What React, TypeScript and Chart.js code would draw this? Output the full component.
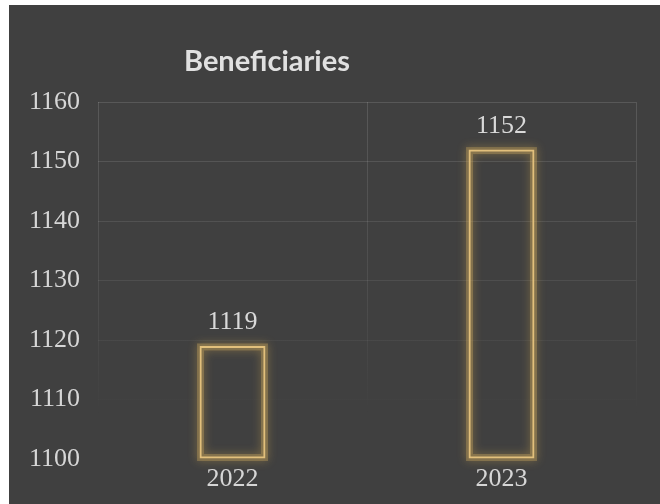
import React, { useEffect, useRef } from "react";
import { Chart, registerables } from "chart.js";

Chart.register(...registerables);

const categories = ["2022", "2023"];
const beneficiaries = [1119, 1152];
const yMin = 1100;
const yMax = 1160;
const yStep = 10;
const titleText = "Beneficiaries";

const glowPlugin = {
  id: "glowBars",
  beforeDatasetsDraw(chart: any) {
    const ctx = chart.ctx;
    const meta = chart.getDatasetMeta(0);
    ctx.save();
    meta.data.forEach((bar: any) => {
      const p = bar.getProps(["x", "y", "base", "width"], true);
      const left = p.x - p.width / 2;
      const top = Math.min(p.y, p.base);
      const h = Math.abs(p.base - p.y);
      ctx.shadowColor = "rgba(235, 185, 80, 0.85)";
      ctx.shadowBlur = 10;
      ctx.strokeStyle = "rgba(200, 165, 95, 0.38)";
      ctx.lineWidth = 7;
      ctx.strokeRect(left + 1, top + 1, p.width - 2, h - 2);
    });
    ctx.restore();
  },
};

const labelPlugin = {
  id: "valueLabels",
  afterDatasetsDraw(chart: any) {
    const ctx = chart.ctx;
    const meta = chart.getDatasetMeta(0);
    ctx.save();
    ctx.font = "26px 'Liberation Serif', serif";
    ctx.fillStyle = "#d9d9d9";
    ctx.textAlign = "center";
    ctx.textBaseline = "alphabetic";
    meta.data.forEach((bar: any, i: number) => {
      ctx.fillText(String(chart.data.datasets[0].data[i]), bar.x, bar.y - 17);
    });
    ctx.restore();
  },
};

const titlePlugin = {
  id: "customTitle",
  afterDraw(chart: any) {
    const ctx = chart.ctx;
    const area = chart.chartArea;
    ctx.save();
    ctx.font = "bold 29px Lato";
    ctx.fillStyle = "#e0e0e0";
    ctx.textAlign = "center";
    ctx.textBaseline = "alphabetic";
    ctx.fillText(titleText, area.left + area.width * 0.314, area.top - 31);
    ctx.restore();
  },
};

function gridColor(context: any) {
  const chart = context.chart;
  const area = chart.chartArea;
  if (!area) return "rgba(255,255,255,0.1)";
  const g = chart.ctx.createLinearGradient(0, area.top, 0, area.bottom);
  g.addColorStop(0, "rgba(255,255,255,0.13)");
  g.addColorStop(0.55, "rgba(255,255,255,0.07)");
  g.addColorStop(0.88, "rgba(255,255,255,0.0)");
  g.addColorStop(1, "rgba(255,255,255,0.0)");
  return g;
}

export default function App() {
  const ref = useRef<HTMLCanvasElement>(null);
  useEffect(() => {
    if (!ref.current) return;
    const chart = new Chart(ref.current, {
      type: "bar",
      data: {
        labels: categories,
        datasets: [
          {
            data: beneficiaries,
            base: yMin,
            backgroundColor: "rgba(0,0,0,0)",
            borderColor: "#e2c07c",
            borderWidth: 2,
            borderSkipped: false,
            categoryPercentage: 1,
            barPercentage: 0.245,
            clip: 20,
          } as any,
        ],
      },
      options: {
        animation: false,
        responsive: true,
        maintainAspectRatio: false,
        layout: { padding: { left: 0, right: 24, top: 97, bottom: 0 } },
        plugins: {
          legend: { display: false },
          tooltip: { enabled: false },
          title: { display: false },
        },
        scales: {
          x: {
            grid: { color: gridColor, drawTicks: false, lineWidth: 1 },
            border: { display: false },
            ticks: {
              color: "#d6d6d6",
              font: { family: "'Liberation Serif', serif", size: 26 },
              padding: 5,
            },
            afterFit(scale: any) {
              scale.height = 45;
            },
          },
          y: {
            min: yMin,
            max: yMax,
            grid: { color: gridColor, drawTicks: false, lineWidth: 1 },
            border: { display: false },
            ticks: {
              stepSize: yStep,
              color: "#d6d6d6",
              font: { family: "'Liberation Serif', serif", size: 26 },
              padding: 18,
              callback: (v: any) => String(v),
            },
            afterFit(scale: any) {
              scale.width = 89;
            },
          },
        },
      },
      plugins: [glowPlugin, labelPlugin, titlePlugin],
    });
    return () => chart.destroy();
  }, []);

  return (
    <div
      style={{
        position: "fixed",
        left: 9,
        top: 5,
        width: 651,
        height: 499,
        background: "#404040",
      }}
    >
      <canvas ref={ref} />
    </div>
  );
}
